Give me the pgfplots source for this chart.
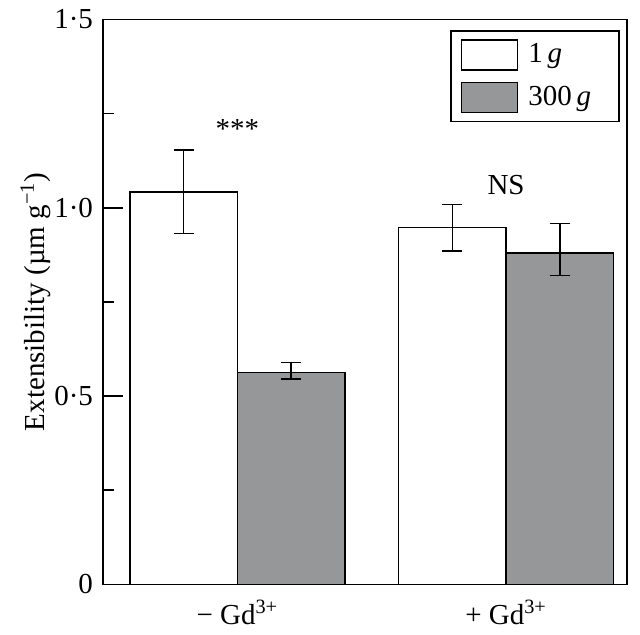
\documentclass[border=0pt]{standalone}
\usepackage{fontspec}
\setmainfont{Liberation Serif}
\usepackage{pgfplots}
\pgfplotsset{compat=1.18}
\definecolor{bargray}{RGB}{150,151,153}
\begin{document}
\fontsize{14.5}{17}\selectfont
\begin{tikzpicture}
\begin{axis}[
  name=ax,
  scale only axis,
  width=262pt, height=282.5pt,
  xmin=-0.5, xmax=1.45,
  ymin=0, ymax=1.5,
  axis line style={line width=0.8pt},
  ybar=0pt, bar width=0.4,
  xtick={0,1},
  xticklabels={\textminus{} Gd\textsuperscript{3+}, + Gd\textsuperscript{3+}},
  x tick style={draw=none},
  xticklabel style={yshift=-3pt},
  ytick={0,0.5,1,1.5},
  yticklabels={0, 0·5, 1·0, 1·5},
  minor ytick={0.25,0.75,1.25},
  ytick pos=left,
  tick align=inside,
  y tick style={line width=0.8pt, black},
  major tick length=10pt, minor tick length=5.5pt,
  /pgf/number format/assume math mode=true,
  ylabel={Extensibility (µm g\textsuperscript{\textminus1})},
  ylabel style={at={(axis description cs:-0.081,0.5)}, anchor=south},
  legend style={at={(1,1)}, anchor=north east, xshift=-3.5pt, yshift=-5.5pt,
    draw=black, line width=0.8pt, inner xsep=5pt, inner ysep=4pt,
    row sep=5.5pt, cells={anchor=west}},
  legend image code/.code={\draw[#1, line width=0.8pt] (0pt,-7.5pt) rectangle (28pt,7.5pt);},
  error bars/y dir=both, error bars/y explicit,
  error bars/error bar style={line width=0.8pt, black},
  error bars/error mark options={rotate=90, black, mark size=5pt, line width=0.8pt},
]
\addplot[draw=black, fill=white, line width=0.8pt] coordinates {
  (0,1.041) += (0,0.112) -= (0,0.109)
  (1,0.947) += (0,0.062) -= (0,0.062)
};
\addplot[draw=black, fill=bargray, line width=0.8pt] coordinates {
  (0,0.562) += (0,0.027) -= (0,0.016)
  (1,0.880) += (0,0.078) -= (0,0.060)
};
\legend{\hspace*{3pt}1\,\textit{g}, \hspace*{3pt}300\,\textit{g}\hspace*{7pt}}
\node at (axis cs:0,1.21) {***};
\node at (axis cs:1,1.06) {NS};
\end{axis}
\path[use as bounding box] ([xshift=-51.5pt, yshift=-22.5pt]ax.south west) rectangle ([xshift=6.5pt, yshift=7.5pt]ax.north east);
\end{tikzpicture}
\end{document}
